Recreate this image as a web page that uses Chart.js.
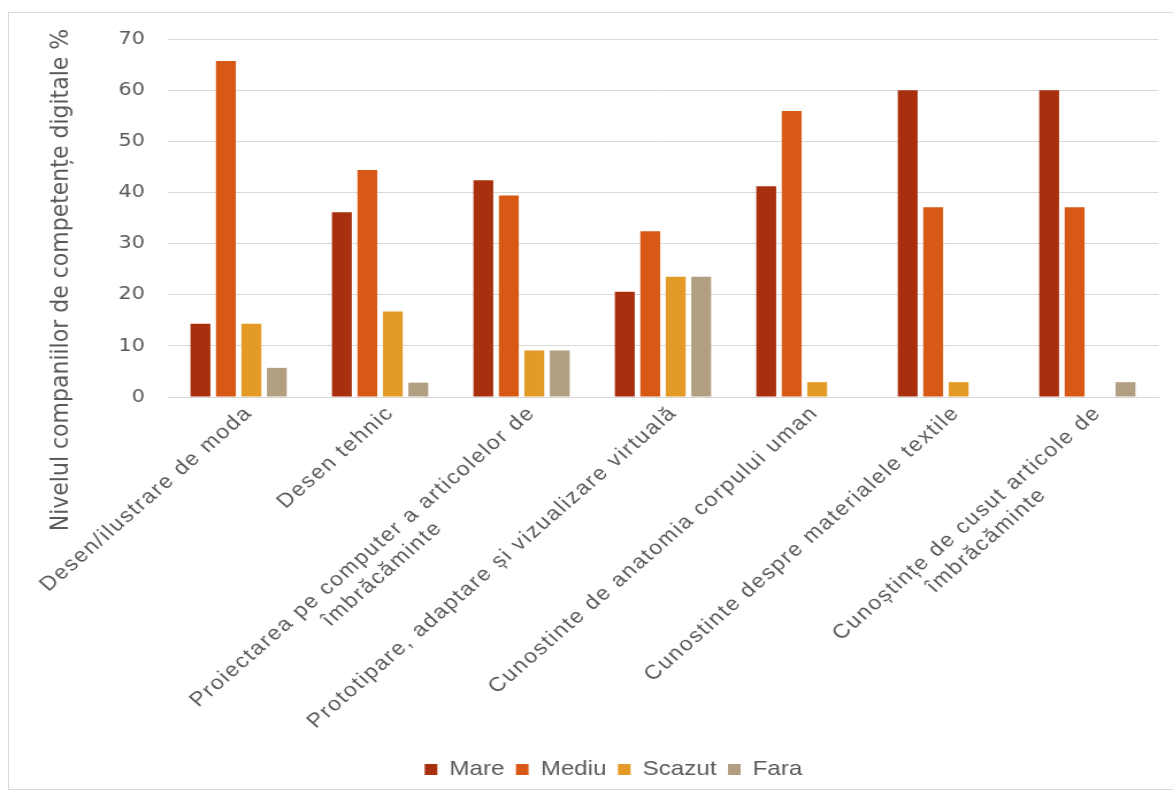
<!DOCTYPE html>
<html lang="ro">
<head>
<meta charset="UTF-8">
<title>Nivelul competentelor digitale</title>
<script src="https://cdn.jsdelivr.net/npm/chart.js"></script>
<style>
    html, body { margin: 0; padding: 0; background: #fff; overflow: hidden; }
    .page { position: relative; width: 1173px; height: 798px; overflow: hidden; }
    .frame {
        position: absolute; left: 8px; top: 12px; width: 1200px; height: 776px;
        border: 1px solid #d9d9d9;
    }
    /* the source picture is stretched sideways, so the canvas is too */
    #chart {
        position: absolute; left: 0; top: 0;
        width: 1020px; height: 798px;
        transform: scaleX(1.15); transform-origin: 0 0;
    }
</style>
</head>
<body>
<div class="page">
    <div class="frame"></div>
    <canvas id="chart" width="1020" height="798"></canvas>
</div>

<script>
    // categories (one array per label line)
    const categories = [
        ["Desen/ilustrare de moda"],
        ["Desen tehnic"],
        ["Proiectarea pe computer a articolelor de", "îmbrăcăminte"],
        ["Prototipare, adaptare și vizualizare virtuală"],
        ["Cunostinte de anatomia corpului uman"],
        ["Cunostinte despre materialele textile"],
        ["Cunoștințe de cusut articole de", "îmbrăcăminte"]
    ];
    const seriesNames = ["Mare", "Mediu", "Scazut", "Fara"];

    // values in %
    const mare   = [14.3, 36.1, 42.4, 20.6, 41.2, 60.0, 60.0];
    const mediu  = [65.7, 44.4, 39.4, 32.4, 55.9, 37.1, 37.1];
    const scazut = [14.3, 16.7,  9.1, 23.5,  2.9,  2.9,  0];
    const fara   = [ 5.7,  2.8,  9.1, 23.5,  0,    0,    2.9];

    const yTicks = [0, 10, 20, 30, 40, 50, 60, 70];
    const yTitle = "Nivelul companiilor de competențe digitale %";

    const colors = ["#a8300f", "#d85916", "#e39a26", "#b29e80"];
    const textColor = "#595959";

    // rotated category labels, multi-line blocks centred like the original
    const xLabels = {
        id: "xLabels",
        afterDraw(chart) {
            const ctx = chart.ctx;
            const scale = chart.scales.x;
            ctx.save();
            ctx.font = '20px "Liberation Sans", Arial, sans-serif';
            ctx.fillStyle = textColor;
            ctx.letterSpacing = "1.5px";
            ctx.textAlign = "center";
            ctx.textBaseline = "middle";
            categories.forEach((lines, i) => {
                const x = scale.getPixelForTick(i);
                const w = Math.max(...lines.map(l => ctx.measureText(l).width));
                ctx.save();
                ctx.translate(x + 9, scale.top + 13);
                ctx.rotate(-Math.PI / 4);
                lines.forEach((l, j) => ctx.fillText(l, -w / 2, j * 24));
                ctx.restore();
            });
            ctx.restore();
        }
    };

    // y title sits a bit lower than the plot centre in the original
    const yTitlePlugin = {
        id: "yTitle",
        afterDraw(chart) {
            const ctx = chart.ctx;
            ctx.save();
            ctx.font = '22px "DejaVu Sans", Verdana, sans-serif';
            ctx.fillStyle = textColor;
            ctx.textAlign = "center";
            ctx.textBaseline = "middle";
            ctx.translate(53, 280);
            ctx.rotate(-Math.PI / 2);
            ctx.fillText(yTitle, 0, 0);
            ctx.restore();
        }
    };

    const dataSets = [mare, mediu, scazut, fara].map((d, i) => ({
        label: seriesNames[i],
        data: d,
        backgroundColor: colors[i],
        borderWidth: 0,
        categoryPercentage: 0.72,
        barPercentage: 0.78
    }));

    new Chart(document.getElementById("chart"), {
        type: "bar",
        data: {
            labels: categories.map(c => c.join(" ")),
            datasets: dataSets
        },
        options: {
            responsive: false,
            animation: false,
            devicePixelRatio: 1,
            layout: { padding: { left: 60, right: 13, top: 39, bottom: 8 } },
            plugins: {
                tooltip: { enabled: false },
                legend: {
                    position: "bottom",
                    labels: {
                        boxWidth: 11,
                        boxHeight: 11,
                        padding: 10,
                        color: textColor,
                        font: { family: '"Liberation Sans", Arial, sans-serif', size: 21 }
                    }
                }
            },
            scales: {
                x: {
                    grid: { display: false },
                    border: { display: true, color: "#d9d9d9", width: 1 },
                    ticks: { display: false },
                    afterFit(s) { s.height = 352; }
                },
                y: {
                    min: 0,
                    max: 70,
                    afterBuildTicks(s) { s.ticks = yTicks.map(v => ({ value: v })); },
                    grid: { color: "#d9d9d9", drawTicks: false },
                    border: { display: false },
                    ticks: {
                        padding: 20,
                        color: textColor,
                        font: { family: '"DejaVu Sans", Verdana, sans-serif', size: 18 }
                    },
                    afterFit(s) { s.width = 86; }
                }
            }
        },
        plugins: [xLabels, yTitlePlugin]
    });
</script>
</body>
</html>
